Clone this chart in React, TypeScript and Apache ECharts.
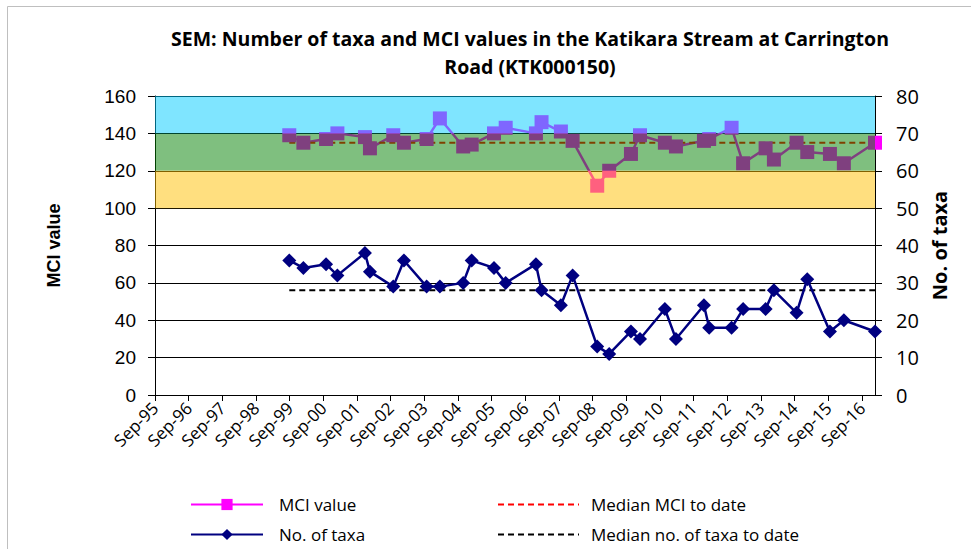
import React, { useEffect, useRef } from "react";
import * as echarts from "echarts";

// Sample dates (shared by both series)
const sampleDates = [
  "1999-08-28", "2000-01-28", "2000-09-30", "2001-01-31", "2001-11-26", "2002-01-19",
  "2002-09-29", "2003-01-23", "2003-09-26", "2004-02-17", "2004-10-27", "2005-01-27",
  "2005-09-26", "2006-01-31", "2006-12-25", "2007-02-24", "2007-09-22", "2008-01-27",
  "2008-10-20", "2009-02-27", "2009-10-21", "2010-01-27", "2010-10-24", "2011-02-21",
  "2011-12-22", "2012-02-17", "2012-10-17", "2013-02-19", "2013-10-21", "2014-01-19",
  "2014-09-22", "2015-01-16", "2015-09-19", "2016-02-17", "2017-01-20",
];
const mciValues = [
  139, 135, 137, 140, 138, 132, 139, 135, 137, 148, 133, 134, 140, 143, 140, 146, 141, 136,
  112, 120, 129, 139, 135, 133, 136, 137, 143, 124, 132, 126, 135, 130, 129, 124, 135,
];
const taxaValues = [
  36, 34, 35, 32, 38, 33, 29, 36, 29, 29, 30, 36, 34, 30, 35, 28, 24, 32,
  13, 11, 17, 15, 23, 15, 24, 18, 18, 23, 23, 28, 22, 31, 17, 20, 17,
];
const medianMci = 135;
const medianTaxa = 28;
const tickLabels = [
  "Sep-95", "Sep-96", "Sep-97", "Sep-98", "Sep-99", "Sep-00", "Sep-01", "Sep-02",
  "Sep-03", "Sep-04", "Sep-05", "Sep-06", "Sep-07", "Sep-08", "Sep-09", "Sep-10",
  "Sep-11", "Sep-12", "Sep-13", "Sep-14", "Sep-15", "Sep-16",
];
const axisStart = "1995-09-01";
const axisEnd = "2017-01-20";
// MCI quality bands [from, to]
const bands = [
  { from: 140, to: 160, color: "rgba(0,204,255,0.5)" },
  { from: 120, to: 140, color: "rgba(0,128,0,0.5)" },
  { from: 100, to: 120, color: "rgba(255,192,0,0.5)" },
];

const YEAR_MS = 365.25 * 24 * 3600 * 1000;
const toYears = (d: string) => (Date.parse(d) - Date.parse(axisStart)) / YEAR_MS;

export default function App() {
  const ref = useRef<HTMLDivElement>(null);
  useEffect(() => {
    if (!ref.current) return;
    const chart = echarts.init(ref.current, undefined, { renderer: "svg" });
    const xs = sampleDates.map(toYears);
    const xMax = toYears(axisEnd);
    const mciData = xs.map((x, i) => [x, mciValues[i]]);
    const taxaData = xs.map((x, i) => [x, taxaValues[i]]);
    const x0 = xs[0];
    const x1 = xs[xs.length - 1];
    const sans = "'Open Sans', sans-serif";
    const arial = "'Liberation Sans', Arial, sans-serif";
    const legendText = { fontFamily: sans, fontSize: 17, color: "#000" };

    chart.setOption({
      animation: false,
      backgroundColor: "#fff",
      graphic: [
        {
          type: "rect",
          shape: { x: 7.5, y: 6.5, width: 1100, height: 700 },
          style: { fill: "none", stroke: "#bfbfbf", lineWidth: 1 },
          silent: true,
          z: -1,
        },
        {
          type: "text",
          x: 530,
          y: 24,
          style: {
            text: "SEM: Number of taxa and MCI values in the Katikara Stream at Carrington\nRoad (KTK000150)",
            textAlign: "center",
            fontFamily: sans,
            fontWeight: "bold",
            fontSize: 19.5,
            lineHeight: 28,
            fill: "#000",
          },
        },
      ],
      grid: { left: 155, right: 96, top: 96, bottom: 154, containLabel: false },
      legend: [
        {
          left: 190,
          top: 496,
          padding: 0,
          orient: "vertical",
          itemWidth: 72,
          itemHeight: 14,
          itemGap: 13,
          data: ["MCI value", "No. of taxa"],
          textStyle: { ...legendText, padding: [0, 0, 0, 11] },
        },
        {
          left: 497,
          top: 496,
          padding: 0,
          orient: "vertical",
          itemWidth: 81,
          itemHeight: 14,
          itemGap: 13,
          data: [
            { name: "Median MCI to date", itemStyle: { opacity: 0 } },
            { name: "Median no. of taxa to date", itemStyle: { opacity: 0 } },
          ],
          textStyle: { ...legendText, padding: [0, 0, 0, 7] },
        },
      ],
      xAxis: {
        type: "value",
        min: 0,
        max: xMax,
        interval: 1,
        axisLine: { show: true, lineStyle: { color: "#000", width: 1 } },
        axisTick: { show: true, length: 6, lineStyle: { color: "#000" } },
        splitLine: { show: false },
        axisLabel: {
          rotate: 45,
          margin: 10,
          fontFamily: sans,
          fontSize: 17,
          color: "#000",
          showMaxLabel: false,
          formatter: (v: number) => {
            const i = Math.round(v);
            return Math.abs(v - i) < 1e-6 && tickLabels[i] ? tickLabels[i] : "";
          },
        },
      },
      yAxis: [
        {
          type: "value",
          min: 0,
          max: 160,
          interval: 20,
          position: "left",
          name: "MCI value",
          nameLocation: "middle",
          nameGap: 92,
          nameTextStyle: { fontFamily: arial, fontWeight: "bold", fontSize: 18, color: "#000" },
          axisLine: { show: true, lineStyle: { color: "#000" } },
          axisTick: { show: true, length: 7, lineStyle: { color: "#000" } },
          axisLabel: { margin: 19, fontFamily: arial, fontSize: 19, color: "#000" },
          splitLine: { show: true, lineStyle: { color: "#000", width: 1 } },
        },
        {
          type: "value",
          min: 0,
          max: 80,
          interval: 10,
          position: "right",
          name: "No. of taxa",
          nameLocation: "middle",
          nameGap: 52,
          nameTextStyle: { fontFamily: sans, fontWeight: "bold", fontSize: 20, color: "#000" },
          axisLine: { show: true, lineStyle: { color: "#000" } },
          axisTick: { show: true, length: 7, lineStyle: { color: "#000" } },
          axisLabel: { margin: 21, fontFamily: sans, fontSize: 20, color: "#000" },
          splitLine: { show: false },
        },
      ],
      series: [
        {
          name: "MCI value",
          type: "line",
          yAxisIndex: 0,
          data: mciData,
          symbol: "rect",
          symbolSize: 14,
          itemStyle: { color: "#ff00ff" },
          lineStyle: { color: "#ff00ff", width: 2.5 },
          z: 2,
          markArea: {
            silent: true,
            z: 10,
            data: bands.map((b) => [
              { yAxis: b.from, itemStyle: { color: b.color } },
              { yAxis: b.to },
            ]),
          },
        },
        {
          name: "Median MCI to date",
          type: "line",
          yAxisIndex: 0,
          data: [[x0, medianMci], [x1, medianMci]],
          symbol: "none",
          itemStyle: { color: "#ff0000" },
          lineStyle: { color: "#ff0000", width: 2, type: [6, 4] },
          z: 2,
        },
        {
          name: "No. of taxa",
          type: "line",
          yAxisIndex: 1,
          data: taxaData,
          symbol: "diamond",
          symbolSize: 14,
          itemStyle: { color: "#000080" },
          lineStyle: { color: "#000080", width: 2.5 },
          z: 3,
        },
        {
          name: "Median no. of taxa to date",
          type: "line",
          yAxisIndex: 1,
          data: [[x0, medianTaxa], [x1, medianTaxa]],
          symbol: "none",
          itemStyle: { color: "#000000" },
          lineStyle: { color: "#000000", width: 2, type: [6, 4] },
          z: 2,
        },
      ],
    });
    return () => chart.dispose();
  }, []);
  return (
    <div
      ref={ref}
      style={{ position: "fixed", left: 0, top: 0, width: 971, height: 549, background: "#fff" }}
    />
  );
}
